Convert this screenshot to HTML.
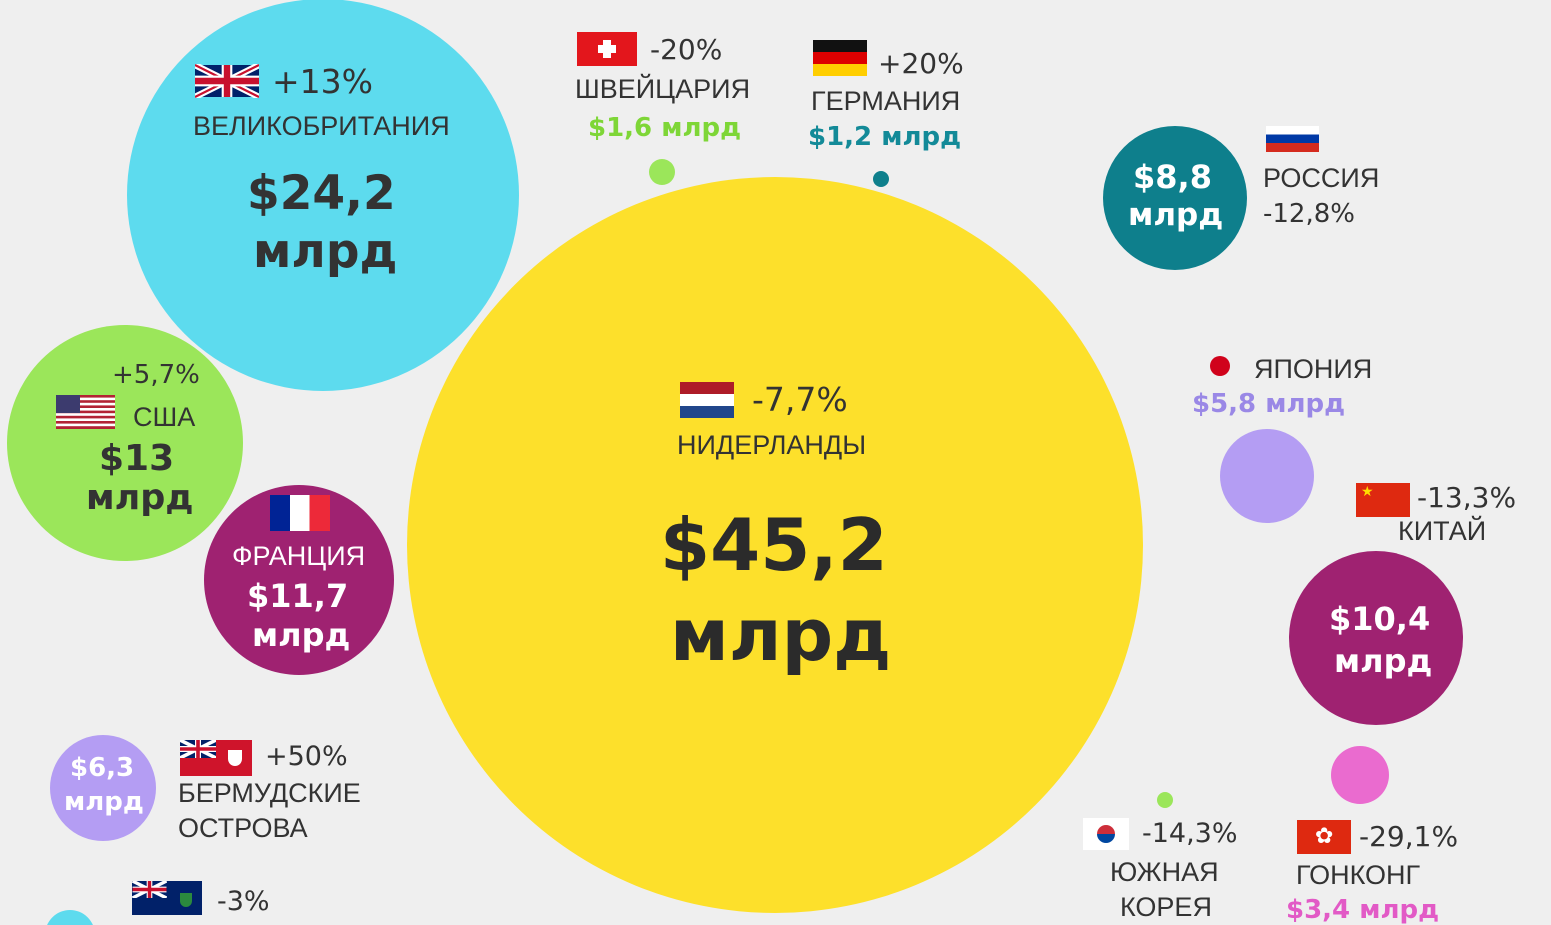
<!DOCTYPE html>
<html><head><meta charset="utf-8"><style>
html,body{margin:0;padding:0;width:1551px;height:925px;overflow:hidden}
body{position:relative;background:#efefef;font-family:"Liberation Sans","DejaVu Sans",sans-serif;color:#333}
.c{position:absolute;border-radius:50%}
.t{position:absolute;white-space:nowrap}
.b{font-weight:bold;font-family:"DejaVu Sans","Liberation Sans",sans-serif}
.p{font-family:"DejaVu Sans","Liberation Sans",sans-serif}
.flag{position:absolute;overflow:hidden}
</style></head><body>
<div class="c" style="left:127px;top:-1px;width:392px;height:392px;background:#5ddbee"></div>
<div class="c" style="left:407px;top:177px;width:736px;height:736px;background:#fde02b"></div>
<div class="c" style="left:7px;top:325px;width:236px;height:236px;background:#9be65a"></div>
<div class="c" style="left:204px;top:485px;width:190px;height:190px;background:#9f2271"></div>
<div class="c" style="left:1103px;top:126px;width:144px;height:144px;background:#0e7f8c"></div>
<div class="c" style="left:1220px;top:429px;width:94px;height:94px;background:#b49df3"></div>
<div class="c" style="left:1289px;top:551px;width:174px;height:174px;background:#9f2271"></div>
<div class="c" style="left:1331px;top:746px;width:58px;height:58px;background:#ea6bcf"></div>
<div class="c" style="left:1157px;top:792px;width:16px;height:16px;background:#9be65a"></div>
<div class="c" style="left:50px;top:735px;width:106px;height:106px;background:#b49df3"></div>
<div class="c" style="left:45px;top:910px;width:50px;height:50px;background:#5ddbee"></div>
<div class="c" style="left:649px;top:159px;width:26px;height:26px;background:#9be65a"></div>
<div class="c" style="left:873px;top:171px;width:16px;height:16px;background:#0e7f8c"></div>
<div class="c" style="left:1210px;top:356px;width:20px;height:20px;background:#d0021b"></div>

<!-- UK -->
<svg class="flag" style="left:195px;top:64px" width="64" height="34" viewBox="0 0 60 30"><rect width="60" height="30" fill="#012169"/><path d="M0,0L60,30M60,0L0,30" stroke="#fff" stroke-width="6"/><path d="M0,0L60,30M60,0L0,30" stroke="#c8102e" stroke-width="2"/><path d="M30,0V30M0,15H60" stroke="#fff" stroke-width="10"/><path d="M30,0V30M0,15H60" stroke="#c8102e" stroke-width="6"/></svg>
<div class="t p" style="left:272px;top:62px;font-size:33px">+13%</div>
<div class="t" style="left:193px;top:111px;font-size:27px">ВЕЛИКОБРИТАНИЯ</div>
<div class="t b" style="left:247px;top:166px;font-size:47px">$24,2</div>
<div class="t b" style="left:253px;top:224px;font-size:47px">млрд</div>

<!-- Swiss -->
<div class="flag" style="left:577px;top:32px;width:60px;height:34px;background:#e3161c"><div style="position:absolute;left:26px;top:8px;width:8px;height:18px;background:#fff"></div><div style="position:absolute;left:21px;top:13px;width:18px;height:8px;background:#fff"></div></div>
<div class="t p" style="left:650px;top:33px;font-size:28px">-20%</div>
<div class="t" style="left:575px;top:74px;font-size:27px">ШВЕЙЦАРИЯ</div>
<div class="t b" style="left:588px;top:113px;font-size:26px;color:#7ed637">$1,6 млрд</div>

<!-- Germany -->
<div class="flag" style="left:813px;top:40px;width:54px;height:36px;background:linear-gradient(#111 0 33%,#dd0000 33% 66%,#ffce00 66%)"></div>
<div class="t p" style="left:878px;top:47px;font-size:28px">+20%</div>
<div class="t" style="left:811px;top:86px;font-size:27px">ГЕРМАНИЯ</div>
<div class="t b" style="left:808px;top:122px;font-size:26px;color:#138a98">$1,2 млрд</div>

<!-- Russia -->
<div class="t b" style="left:1133px;top:158px;font-size:32px;color:#fff">$8,8</div>
<div class="t b" style="left:1128px;top:197px;font-size:31px;color:#fff">млрд</div>
<div class="flag" style="left:1266px;top:126px;width:53px;height:26px;background:linear-gradient(#fff 0 33%,#0039a6 33% 66%,#d52b1e 66%)"></div>
<div class="t" style="left:1263px;top:163px;font-size:27px">РОССИЯ</div>
<div class="t p" style="left:1263px;top:199px;font-size:26px">-12,8%</div>

<!-- Netherlands -->
<div class="flag" style="left:680px;top:382px;width:54px;height:36px;background:linear-gradient(#ae1c28 0 33%,#fff 33% 66%,#21468b 66%)"></div>
<div class="t p" style="left:752px;top:380px;font-size:33px">-7,7%</div>
<div class="t" style="left:677px;top:430px;font-size:27px">НИДЕРЛАНДЫ</div>
<div class="t b" style="left:660px;top:503px;font-size:72px;color:#2b2b2b">$45,2</div>
<div class="t b" style="left:670px;top:593px;font-size:72px;color:#2b2b2b">млрд</div>

<!-- USA -->
<div class="t p" style="left:112px;top:360px;font-size:26px">+5,7%</div>
<svg class="flag" style="left:56px;top:395px" width="59" height="34" viewBox="0 0 59 34"><rect width="59" height="34" fill="#fff"/><g fill="#b22234"><rect y="0" width="59" height="2.6"/><rect y="5.2" width="59" height="2.6"/><rect y="10.4" width="59" height="2.6"/><rect y="15.6" width="59" height="2.6"/><rect y="20.8" width="59" height="2.6"/><rect y="26" width="59" height="2.6"/><rect y="31.2" width="59" height="2.8"/></g><rect width="24" height="18" fill="#3c3b6e"/></svg>
<div class="t" style="left:133px;top:402px;font-size:27px">США</div>
<div class="t b" style="left:99px;top:438px;font-size:36px">$13</div>
<div class="t b" style="left:86px;top:478px;font-size:35px">млрд</div>

<!-- France -->
<div class="flag" style="left:270px;top:495px;width:60px;height:36px;background:linear-gradient(90deg,#002395 0 33%,#fff 33% 66%,#ed2939 66%)"></div>
<div class="t" style="left:232px;top:541px;font-size:27px;color:#fff">ФРАНЦИЯ</div>
<div class="t b" style="left:247px;top:577px;font-size:32px;color:#fff">$11,7</div>
<div class="t b" style="left:252px;top:616px;font-size:32px;color:#fff">млрд</div>

<!-- Japan -->
<div class="t" style="left:1254px;top:354px;font-size:27px">ЯПОНИЯ</div>
<div class="t b" style="left:1192px;top:389px;font-size:26px;color:#9a88e6">$5,8 млрд</div>

<!-- China -->
<div class="flag" style="left:1356px;top:483px;width:54px;height:34px;background:#de2910"><span style="position:absolute;left:5px;top:0;color:#ffde00;font-size:14px">★</span></div>
<div class="t p" style="left:1417px;top:481px;font-size:28px">-13,3%</div>
<div class="t" style="left:1398px;top:516px;font-size:27px">КИТАЙ</div>
<div class="t b" style="left:1329px;top:600px;font-size:32px;color:#fff">$10,4</div>
<div class="t b" style="left:1334px;top:642px;font-size:32px;color:#fff">млрд</div>

<!-- Bermuda -->
<div class="t b" style="left:70px;top:753px;font-size:26px;color:#fff">$6,3</div>
<div class="t b" style="left:64px;top:787px;font-size:26px;color:#fff">млрд</div>
<div class="flag" style="left:180px;top:740px;width:72px;height:36px;background:#cf142b"><svg width="36" height="18" viewBox="0 0 60 30" style="position:absolute;left:0;top:0"><rect width="60" height="30" fill="#012169"/><path d="M0,0L60,30M60,0L0,30" stroke="#fff" stroke-width="6"/><path d="M30,0V30M0,15H60" stroke="#fff" stroke-width="10"/><path d="M30,0V30M0,15H60" stroke="#c8102e" stroke-width="6"/></svg><div style="position:absolute;left:48px;top:10px;width:14px;height:16px;background:#fff;border-radius:0 0 7px 7px"></div></div>
<div class="t p" style="left:265px;top:741px;font-size:27px">+50%</div>
<div class="t" style="left:178px;top:778px;font-size:27px">БЕРМУДСКИЕ</div>
<div class="t" style="left:178px;top:813px;font-size:27px">ОСТРОВА</div>

<!-- BVI -->
<div class="flag" style="left:132px;top:881px;width:70px;height:34px;background:#012169"><svg width="35" height="17" viewBox="0 0 60 30" style="position:absolute;left:0;top:0"><path d="M0,0L60,30M60,0L0,30" stroke="#fff" stroke-width="6"/><path d="M30,0V30M0,15H60" stroke="#fff" stroke-width="10"/><path d="M30,0V30M0,15H60" stroke="#c8102e" stroke-width="6"/></svg><div style="position:absolute;left:48px;top:12px;width:12px;height:14px;background:#2b8a3e;border-radius:0 0 6px 6px"></div></div>
<div class="t p" style="left:217px;top:886px;font-size:27px">-3%</div>

<!-- Korea -->
<div class="flag" style="left:1083px;top:818px;width:46px;height:32px;background:#fff"><div style="position:absolute;left:14px;top:7px;width:18px;height:18px;border-radius:50%;background:linear-gradient(#cd2e3a 50%,#0047a0 50%)"></div></div>
<div class="t p" style="left:1142px;top:818px;font-size:27px">-14,3%</div>
<div class="t" style="left:1110px;top:857px;font-size:27px">ЮЖНАЯ</div>
<div class="t" style="left:1120px;top:892px;font-size:27px">КОРЕЯ</div>

<!-- HK -->
<div class="flag" style="left:1297px;top:820px;width:54px;height:34px;background:#de2910"><span style="position:absolute;left:18px;top:3px;color:#fff;font-size:22px;line-height:26px">✿</span></div>
<div class="t p" style="left:1359px;top:820px;font-size:28px">-29,1%</div>
<div class="t" style="left:1296px;top:860px;font-size:27px">ГОНКОНГ</div>
<div class="t b" style="left:1286px;top:895px;font-size:26px;color:#e25ac6">$3,4 млрд</div>
</body></html>
